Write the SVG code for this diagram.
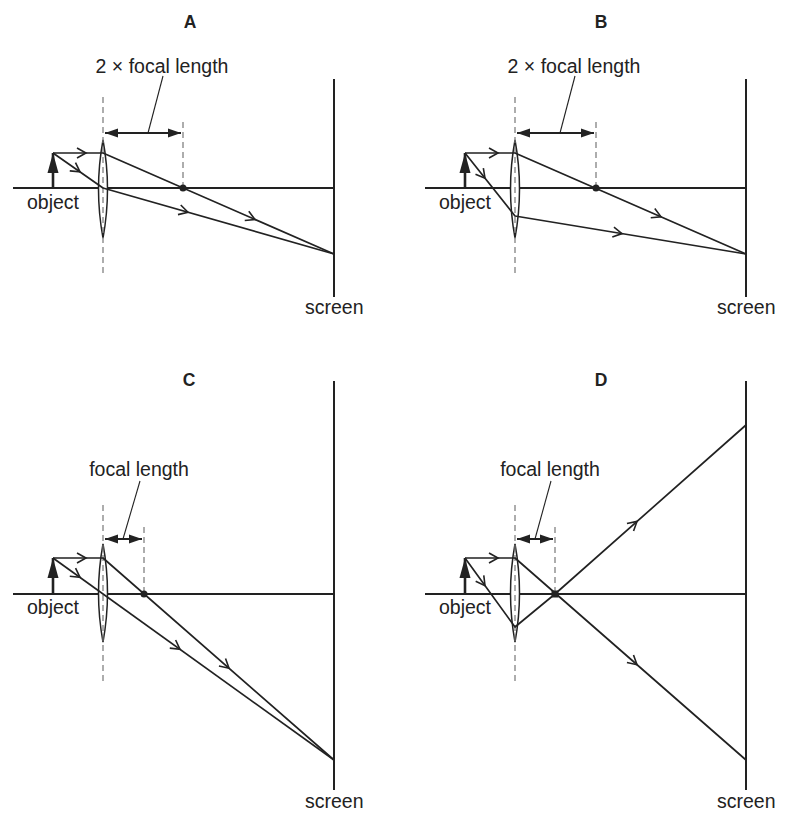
<svg xmlns="http://www.w3.org/2000/svg" width="794" height="821" viewBox="0 0 794 821">
<style>
.t{font-family:"Liberation Sans",Arial,sans-serif;font-size:19.5px;fill:#222}
.h{font-family:"Liberation Sans",Arial,sans-serif;font-size:17.5px;font-weight:bold;fill:#222}
.ax{stroke:#222;stroke-width:2;fill:none}
.ray{stroke:#222;stroke-width:1.7;fill:none;stroke-linejoin:round}
.mk{stroke:none;fill:none;marker-end:url(#chev)}
.dash{stroke:#777;stroke-width:1.2;stroke-dasharray:6,4;fill:none}
.lens{stroke:#222;stroke-width:1.5;fill:#fff}
.dim{stroke:#222;stroke-width:2;fill:none;marker-start:url(#tri);marker-end:url(#tri)}
.lead{stroke:#222;stroke-width:1.1;fill:none}
.obj{stroke:#222;stroke-width:2.6;fill:none;marker-end:url(#objh)}
</style>
<defs>
<marker id="chev" markerUnits="userSpaceOnUse" viewBox="-12 -7 14 14" markerWidth="14" markerHeight="14" refX="0" refY="0" orient="auto" overflow="visible">
<path d="M-9,-5 L0,0 L-9,5" fill="none" stroke="#222" stroke-width="1.6"/>
</marker>
<marker id="tri" markerUnits="userSpaceOnUse" viewBox="-14 -6 14 12" markerWidth="14" markerHeight="12" refX="0" refY="0" orient="auto-start-reverse">
<path d="M-13,-4.5 L0,0 L-13,4.5 Z" fill="#222"/>
</marker>
<marker id="objh" markerUnits="userSpaceOnUse" viewBox="-20 -7 20 14" markerWidth="20" markerHeight="14" refX="0" refY="0" orient="auto">
<path d="M-20,-5.5 L0,0 L-20,5.5 Z" fill="#222"/>
</marker>
</defs>

<!-- Panel A -->
<g id="panelA">
<text class="h" x="190" y="28" text-anchor="middle">A</text>
<g id="A-axis"><line class="ax" x1="13" y1="188" x2="334" y2="188"/></g>
<g id="A-screen"><line class="ax" x1="334" y1="79" x2="334" y2="297"/><text class="t" x="305" y="314">screen</text></g>
<g id="A-object"><line class="obj" x1="53" y1="188" x2="53" y2="153"/><text class="t" x="27" y="209">object</text></g>
<g id="A-lens"><path class="lens" d="M103,140 Q112,189 103,238 Q94,189 103,140 Z"/><line class="dash" x1="103" y1="97" x2="103" y2="275"/></g>
<g id="A-dim"><line class="dash" x1="183" y1="122" x2="183" y2="188"/><line class="dim" x1="105" y1="133" x2="181" y2="133"/><line class="lead" x1="148" y1="133" x2="163" y2="76"/><text class="t" x="162" y="73" text-anchor="middle">2 × focal length</text></g>
<g id="A-focus"><circle cx="183" cy="188" r="3.5" fill="#222"/></g>
<g id="A-rays">
<path class="ray" d="M53,153 L103,153 L334,254"/>
<path class="ray" d="M53,153 L103,188 L334,254"/>
<path class="mk" d="M76,153 L86,153"/>
<path class="mk" d="M70,164.9 L80,171.9"/>
<path class="mk" d="M178,209.4 L188,212.3"/>
<path class="mk" d="M245,215.1 L255,219.5"/>
</g>
</g>

<!-- Panel B -->
<g id="panelB">
<text class="h" x="601" y="28" text-anchor="middle">B</text>
<g id="B-axis"><line class="ax" x1="425" y1="188" x2="746" y2="188"/></g>
<g id="B-screen"><line class="ax" x1="746" y1="79" x2="746" y2="297"/><text class="t" x="717" y="314">screen</text></g>
<g id="B-object"><line class="obj" x1="465" y1="188" x2="465" y2="153"/><text class="t" x="439" y="209">object</text></g>
<g id="B-lens"><path class="lens" d="M515,140 Q524,189 515,238 Q506,189 515,140 Z"/><line class="dash" x1="515" y1="97" x2="515" y2="275"/></g>
<g id="B-dim"><line class="dash" x1="596" y1="122" x2="596" y2="188"/><line class="dim" x1="517" y1="133" x2="594" y2="133"/><line class="lead" x1="560" y1="133" x2="575" y2="76"/><text class="t" x="574" y="73" text-anchor="middle">2 × focal length</text></g>
<g id="B-focus"><circle cx="596" cy="188" r="3.5" fill="#222"/></g>
<g id="B-rays">
<path class="ray" d="M465,153 L515,153 L746,254"/>
<path class="ray" d="M465,153 L515,216 L746,254"/>
<path class="mk" d="M488,153 L498,153"/>
<path class="mk" d="M479,170.6 L485,178.2"/>
<path class="mk" d="M612,231.9 L622,233.6"/>
<path class="mk" d="M651,212.4 L661,216.8"/>
</g>
</g>

<!-- Panel C -->
<g id="panelC">
<text class="h" x="189" y="386" text-anchor="middle">C</text>
<g id="C-axis"><line class="ax" x1="13" y1="594" x2="334" y2="594"/></g>
<g id="C-screen"><line class="ax" x1="334" y1="381" x2="334" y2="790"/><text class="t" x="305" y="808">screen</text></g>
<g id="C-object"><line class="obj" x1="53" y1="594" x2="53" y2="558"/><text class="t" x="27" y="614">object</text></g>
<g id="C-lens"><path class="lens" d="M103,544 Q112,593 103,642 Q94,593 103,544 Z"/><line class="dash" x1="103" y1="505" x2="103" y2="682"/></g>
<g id="C-dim"><line class="dash" x1="144" y1="527" x2="144" y2="594"/><line class="dim" x1="105" y1="539" x2="142" y2="539"/><line class="lead" x1="123" y1="539" x2="140" y2="481"/><text class="t" x="139" y="476" text-anchor="middle">focal length</text></g>
<g id="C-focus"><circle cx="144" cy="594" r="3.5" fill="#222"/></g>
<g id="C-rays">
<path class="ray" d="M53,558 L103,558 L334,760"/>
<path class="ray" d="M53,558 L334,760"/>
<path class="mk" d="M76,558 L86,558"/>
<path class="mk" d="M72,571.7 L80,577.4"/>
<path class="mk" d="M170,642.1 L180,649.3"/>
<path class="mk" d="M220,660.3 L229,668.2"/>
</g>
</g>

<!-- Panel D -->
<g id="panelD">
<text class="h" x="601" y="386" text-anchor="middle">D</text>
<g id="D-axis"><line class="ax" x1="425" y1="594" x2="746" y2="594"/></g>
<g id="D-screen"><line class="ax" x1="746" y1="381" x2="746" y2="790"/><text class="t" x="717" y="808">screen</text></g>
<g id="D-object"><line class="obj" x1="465" y1="594" x2="465" y2="558"/><text class="t" x="439" y="614">object</text></g>
<g id="D-lens"><path class="lens" d="M515,544 Q524,593 515,642 Q506,593 515,544 Z"/><line class="dash" x1="515" y1="505" x2="515" y2="682"/></g>
<g id="D-dim"><line class="dash" x1="555" y1="527" x2="555" y2="594"/><line class="dim" x1="517" y1="539" x2="553" y2="539"/><line class="lead" x1="535" y1="539" x2="551" y2="481"/><text class="t" x="550" y="476" text-anchor="middle">focal length</text></g>
<g id="D-rays">
<path class="ray" d="M465,558 L515,558 L746,760"/>
<path class="ray" d="M465,558 L515,627 L555,594 L746,425"/>
<path class="mk" d="M488,558 L498,558"/>
<path class="mk" d="M479,577.3 L485,585.6"/>
<path class="mk" d="M627,530.2 L637,521.4"/>
<path class="mk" d="M627,656 L637,664.7"/>
</g>
<g id="D-focus"><rect x="551.5" y="590.5" width="7" height="7" fill="#222"/></g>
</g>
</svg>
